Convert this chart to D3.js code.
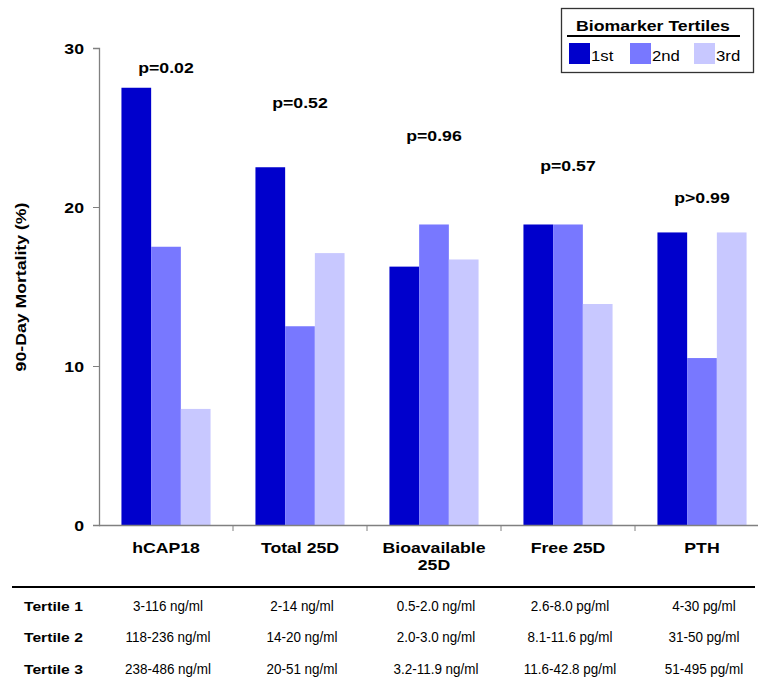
<!DOCTYPE html>
<html><head><meta charset="utf-8">
<script src="https://cdn.jsdelivr.net/npm/d3@7"></script>
<style>body{margin:0;background:#fff}svg{font-family:Arial,"Liberation Sans",sans-serif}</style>
</head><body><svg id="c" width="758" height="691"></svg>
<script>
const categories = ["hCAP18", "Total 25D", "Bioavailable 25D", "Free 25D", "PTH"];
const categoryLines = [["hCAP18"], ["Total 25D"], ["Bioavailable", "25D"], ["Free 25D"], ["PTH"]];
const tertiles = ["1st", "2nd", "3rd"];
const tertile1 = [27.5, 22.5, 16.25, 18.9, 18.4];
const tertile2 = [17.5, 12.5, 18.9, 18.9, 10.5];
const tertile3 = [7.3, 17.1, 16.7, 13.9, 18.4];
const pValues = ["p=0.02", "p=0.52", "p=0.96", "p=0.57", "p>0.99"];
const pLabelValues = [28.4, 26.2, 24.17, 22.26, 20.23];
const yTicks = [0, 10, 20, 30];
const rowLabels = ["Tertile 1", "Tertile 2", "Tertile 3"];
const ranges1 = ["3-116 ng/ml", "2-14 ng/ml", "0.5-2.0 ng/ml", "2.6-8.0 pg/ml", "4-30 pg/ml"];
const ranges2 = ["118-236 ng/ml", "14-20 ng/ml", "2.0-3.0 ng/ml", "8.1-11.6 pg/ml", "31-50 pg/ml"];
const ranges3 = ["238-486 ng/ml", "20-51 ng/ml", "3.2-11.9 ng/ml", "11.6-42.8 pg/ml", "51-495 pg/ml"];
const colors = ["#0000CC", "#7878FF", "#C8C8FF"];

const svg = d3.select("#c");
const x0 = 99, x1 = 769, yTop = 48, yBot = 525;
const x = d3.scaleBand().domain(categories).range([x0, x1]).paddingInner(0).paddingOuter(0);
const y = d3.scaleLinear().domain([0, 30]).range([yBot, yTop]);
const groupW = x.bandwidth() * 0.665;
const xs = d3.scaleBand().domain(tertiles).range([0, groupW]);
const series = [tertile1, tertile2, tertile3];
const SX = 1.14;   // horizontal stretch of the reference's text

function label(g, px, py, str, opts) {
  const o = Object.assign({ size: 15.5, bold: true, anchor: "middle", sx: SX, rot: 0 }, opts || {});
  return g.append("text")
    .attr("transform", `translate(${px},${py}) rotate(${o.rot}) scale(${o.sx},1)`)
    .attr("text-anchor", o.anchor).attr("font-size", o.size)
    .attr("font-weight", o.bold ? "bold" : "normal").text(str);
}

// bars
tertiles.forEach((t, ti) => {
  svg.append("g").selectAll("rect").data(categories).join("rect")
    .attr("x", (c) => x(c) + (x.bandwidth() - groupW) / 2 + xs(t))
    .attr("y", (c, i) => y(series[ti][i]))
    .attr("width", xs.bandwidth())
    .attr("height", (c, i) => yBot - y(series[ti][i]))
    .attr("fill", colors[ti]);
});

// y axis
const gy = svg.append("g").attr("transform", `translate(${x0},0)`)
  .call(d3.axisLeft(y).tickValues(yTicks).tickSize(6).tickFormat(""));
gy.select(".domain").attr("stroke", "#808080").attr("stroke-width", 1.3);
gy.selectAll(".tick line").attr("stroke", "#808080");
yTicks.forEach((v) => label(svg, 84, y(v) + 5.5, d3.format("d")(v), { anchor: "end" }));

// x axis
svg.append("line").attr("x1", x0).attr("x2", 758).attr("y1", yBot + 0.5).attr("y2", yBot + 0.5)
  .attr("stroke", "#808080").attr("stroke-width", 1.5);
svg.append("g").selectAll("line").data(categories.slice(1)).join("line")
  .attr("x1", (c) => x(c)).attr("x2", (c) => x(c))
  .attr("y1", yBot).attr("y2", yBot + 6).attr("stroke", "#808080");

// category labels
categories.forEach((c, i) => {
  const cx = x(c) + x.bandwidth() / 2;
  categoryLines[i].forEach((l, li) => label(svg, cx, 553 + li * 17, l));
});

// p-values
categories.forEach((c, i) => label(svg, x(c) + x.bandwidth() / 2, y(pLabelValues[i]), pValues[i]));

// y title
label(svg, 26, 287, "90-Day Mortality (%)", { rot: -90 });

// legend
const lg = svg.append("g");
lg.append("rect").attr("x", 561.5).attr("y", 8.5).attr("width", 192).attr("height", 64)
  .attr("fill", "#fff").attr("stroke", "#333").attr("stroke-width", 1.3);
label(lg, 653, 30.5, "Biomarker Tertiles");
lg.append("line").attr("x1", 567).attr("x2", 740).attr("y1", 36).attr("y2", 36).attr("stroke", "#000").attr("stroke-width", 2);
const legX = [569, 630, 694];
tertiles.forEach((t, i) => {
  lg.append("rect").attr("x", legX[i]).attr("y", 43).attr("width", 21).attr("height", 21).attr("fill", colors[i]);
  label(lg, legX[i] + 22, 61, t, { bold: false, anchor: "start", sx: 1.08 });
});

// table
svg.append("line").attr("x1", 12).attr("x2", 755).attr("y1", 587).attr("y2", 587).attr("stroke", "#000").attr("stroke-width", 2);
const ranges = [ranges1, ranges2, ranges3];
const rowY = [611, 642, 674];
rowLabels.forEach((r, ri) => {
  label(svg, 24, rowY[ri], r, { size: 13.5, anchor: "start", sx: 1.16 });
  categories.forEach((c, i) => label(svg, x(c) + x.bandwidth() / 2 + 2, rowY[ri], ranges[ri][i],
    { size: 14, bold: false, sx: 0.96 }));
});
</script></body></html>
